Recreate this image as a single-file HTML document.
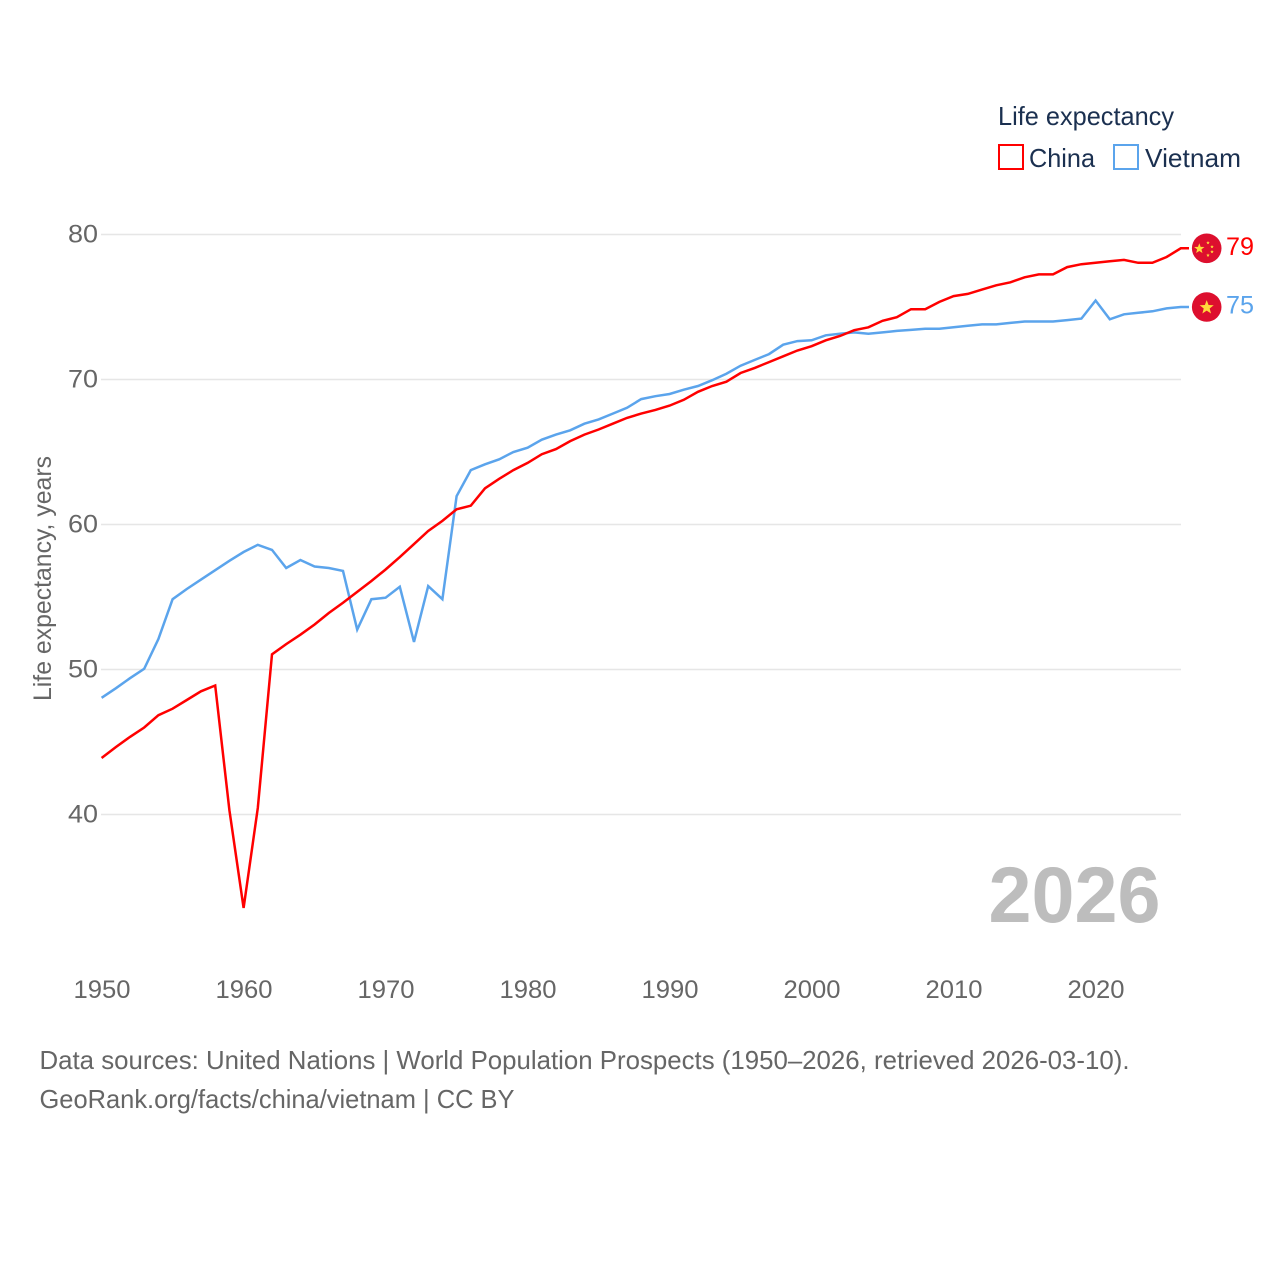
<!DOCTYPE html>
<html lang="en">
<head>
<meta charset="utf-8">
<title>Life expectancy: China and Vietnam</title>
<style>
html,body{margin:0;padding:0;background:#fff;width:1280px;height:1280px;overflow:hidden}
svg{display:block}
text{font-family:"Liberation Sans",sans-serif}
</style>
</head>
<body>
<svg id="chart" xmlns="http://www.w3.org/2000/svg" width="1280" height="1280" viewBox="0 0 1280 1280">
  <rect width="1280" height="1280" fill="#fff"/>
  <g id="grid"></g>
  <g id="yticks"></g>
  <g id="xticks"></g>
  <text transform="translate(51,701) rotate(-90)" font-size="25" fill="#666" textLength="245" lengthAdjust="spacingAndGlyphs">Life expectancy, years</text>
  <text x="988.5" y="922" font-size="79" font-weight="700" fill="#bdbdbd" textLength="172" lengthAdjust="spacingAndGlyphs">2026</text>
  <g id="series"></g>
  <g id="ends"></g>
  <g>
    <text x="998" y="125" font-size="26" fill="#1b3050" textLength="176" lengthAdjust="spacingAndGlyphs">Life expectancy</text>
    <g>
      <rect x="999" y="145" width="24" height="24" fill="#fff" stroke="#ff0000" stroke-width="2"/>
      <text x="1029" y="167" font-size="26" fill="#1b3050" textLength="66" lengthAdjust="spacingAndGlyphs">China</text>
    </g>
    <g>
      <rect x="1114" y="145" width="24" height="24" fill="#fff" stroke="#5ba4ec" stroke-width="2"/>
      <text x="1145" y="167" font-size="26" fill="#1b3050" textLength="96" lengthAdjust="spacingAndGlyphs">Vietnam</text>
    </g>
  </g>
  <text x="39.5" y="1069" font-size="26" fill="#666" textLength="1090" lengthAdjust="spacingAndGlyphs">Data sources: United Nations | World Population Prospects (1950–2026, retrieved 2026-03-10).</text>
  <text x="39.5" y="1108" font-size="26" fill="#666" textLength="475" lengthAdjust="spacingAndGlyphs">GeoRank.org/facts/china/vietnam | CC BY</text>
</svg>
<script>
const startYear = 1950;
const xTickLabels = [1950,1960,1970,1980,1990,2000,2010,2020];
const yTickLabels = [40,50,60,70,80];
const chinaValues = [43.9,44.65,45.35,46.0,46.85,47.3,47.9,48.5,48.9,40.3,33.55,40.45,51.05,51.75,52.4,53.1,53.9,54.6,55.35,56.1,56.9,57.75,58.65,59.55,60.25,61.05,61.3,62.5,63.15,63.75,64.25,64.85,65.2,65.75,66.2,66.55,66.95,67.35,67.65,67.9,68.2,68.6,69.15,69.55,69.85,70.45,70.8,71.2,71.6,72.0,72.3,72.7,73.0,73.4,73.6,74.05,74.3,74.85,74.85,75.35,75.75,75.9,76.2,76.5,76.7,77.05,77.25,77.25,77.75,77.95,78.05,78.15,78.25,78.05,78.05,78.45,79.05];
const vietnamValues = [48.05,48.7,49.4,50.05,52.1,54.85,55.55,56.2,56.85,57.5,58.1,58.6,58.25,57.0,57.55,57.1,57.0,56.8,52.75,54.85,54.95,55.7,51.9,55.75,54.85,61.95,63.75,64.15,64.5,65.0,65.3,65.85,66.2,66.5,66.95,67.25,67.65,68.05,68.65,68.85,69.0,69.3,69.55,69.95,70.4,70.95,71.35,71.75,72.4,72.65,72.7,73.05,73.15,73.25,73.15,73.25,73.35,73.42,73.5,73.5,73.6,73.7,73.8,73.8,73.9,74.0,74.0,74.0,74.1,74.2,75.45,74.15,74.5,74.6,74.7,74.9,75.0];

const NS = 'http://www.w3.org/2000/svg';
function xScale(year){ return 101.6 + (year - 1950) * 14.2; }
function yScale(v){ return 234.5 + (80 - v) * 14.5; }
function make(tag, attrs, parent){
  const el = document.createElementNS(NS, tag);
  for (const k in attrs) el.setAttribute(k, attrs[k]);
  parent.appendChild(el);
  return el;
}
function starPoints(cx, cy, r){
  const pts = [];
  for (let i = 0; i < 10; i++){
    const a = -Math.PI / 2 + i * Math.PI / 5;
    const rad = i % 2 ? r * 0.42 : r;
    pts.push((cx + rad * Math.cos(a)).toFixed(2) + ',' + (cy + rad * Math.sin(a)).toFixed(2));
  }
  return pts.join(' ');
}

const grid = document.getElementById('grid');
const yticks = document.getElementById('yticks');
const xticks = document.getElementById('xticks');
const seriesG = document.getElementById('series');
const ends = document.getElementById('ends');

yTickLabels.forEach(function(v){
  const line = make('line', {x1:101, x2:1181, y1:yScale(v), y2:yScale(v), stroke:'#e6e6e6', 'stroke-width':1.5}, grid);
  
  
  const t = make('text', {x:98, y:yScale(v) + 8, 'font-size':25, fill:'#666', 'text-anchor':'end', textLength:30, lengthAdjust:'spacingAndGlyphs'}, yticks);
  t.textContent = v;
  
  
});

xTickLabels.forEach(function(yr){
  const t = make('text', {x:xScale(yr) + 0.4, y:998, 'font-size':25, fill:'#666', 'text-anchor':'middle', textLength:57, lengthAdjust:'spacingAndGlyphs'}, xticks);
  t.textContent = yr;
  
  
});

function drawLine(values, color, name){
  const pts = values.map(function(v, i){ return xScale(startYear + i).toFixed(1) + ',' + yScale(v).toFixed(1); });
  const lastY = yScale(values[values.length - 1]).toFixed(1);
  pts.push('1189,' + lastY);
  const p = make('polyline', {points:pts.join(' '), fill:'none', stroke:color, 'stroke-width':2.5, 'stroke-linejoin':'miter'}, seriesG);
  
  
}
drawLine(vietnamValues, '#5ba4ec', 'line-vietnam');
drawLine(chinaValues, '#ff0000', 'line-china');

function drawEnd(values, color, country){
  const last = values[values.length - 1];
  const cy = yScale(last);
  const g = make('g', {}, ends);
  
  
  const c = make('circle', {cx:1206.7, cy:cy, r:14.8, fill:'#dd0f2e'}, g);
  
  
  const label = make('text', {x:1226, y:cy + 6.5, 'font-size':25, fill:color, textLength:28, lengthAdjust:'spacingAndGlyphs'}, g);
  label.textContent = Math.round(last);
  
  
  return {g:g, cy:cy};
}
const cn = drawEnd(chinaValues, '#ff0000', 'china');
const big = make('polygon', {points:starPoints(1199.3, cn.cy + 0.4, 5.4), fill:'#ffd93b'}, cn.g);


[[1208,-5.5],[1212,-1.5],[1212,3.5],[1208,7]].forEach(function(o, i){
  const s = make('polygon', {points:starPoints(o[0], cn.cy + o[1], 1.9), fill:'#ffd93b'}, cn.g);
  
  
});
const vn = drawEnd(vietnamValues, '#5ba4ec', 'vietnam');
const vs = make('polygon', {points:starPoints(1206.7, vn.cy + 0.5, 7.4), fill:'#ffd93b'}, vn.g);


</script>
</body>
</html>
